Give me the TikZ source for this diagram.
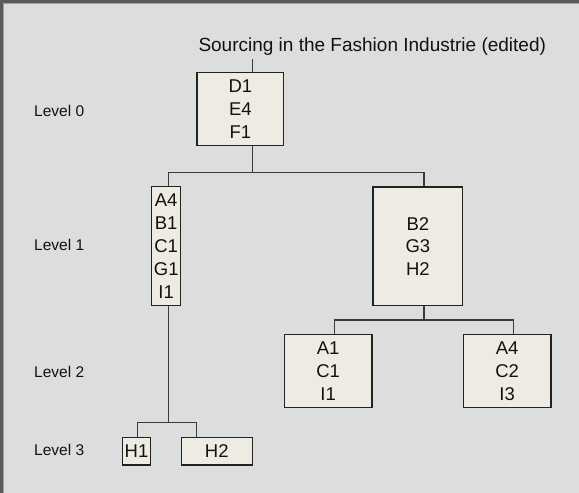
\documentclass[tikz,border=0pt]{standalone}
\usepackage{fontspec}
\setmainfont{Liberation Sans}
\definecolor{bggray}{HTML}{DCDEDD}
\definecolor{boxfill}{HTML}{EEECE2}
\definecolor{edgedark}{HTML}{5A5A5A}
\definecolor{edgelight}{HTML}{A0A0A0}
\definecolor{linecol}{HTML}{3A3A3A}
\definecolor{boxline}{HTML}{222222}
\definecolor{txt}{HTML}{111111}
\begin{document}
\begin{tikzpicture}[x=1pt,y=-1pt,
  itembox/.style={draw=boxline, line width=1.3pt, fill=boxfill, inner sep=0pt,
    align=center, font=\fontsize{18.5}{22.8}\selectfont, text=txt},
  levellabel/.style={anchor=west, inner sep=0pt, font=\fontsize{15.5}{18}\selectfont, text=txt},
  conn/.style={draw=linecol, line width=1.3pt}]
\useasboundingbox (0,0) rectangle (579,493);
\fill[bggray] (0,0) rectangle (579,493);
\fill[edgedark] (0,0) rectangle (2.6,493);
\fill[edgedark] (0,0) rectangle (579,2.6);
\fill[edgelight] (2.6,2.6) rectangle (3.6,493);
\fill[edgelight] (2.6,2.6) rectangle (579,3.6);

% title
\node[anchor=base west, inner sep=0pt, font=\fontsize{19}{22}\selectfont, text=txt] (title) at (198.3,51.7) {Sourcing in the Fashion Industrie (edited)};

% level labels
\node[levellabel] (l0) at (34,110.5) {Level 0};
\node[levellabel] (l1) at (34,245.3) {Level 1};
\node[levellabel] (l2) at (34,371.7) {Level 2};
\node[levellabel] (l3) at (34,450) {Level 3};

% boxes
\node[itembox, minimum width=86.7pt, minimum height=73.4pt] (root) at (240.4,109) {D1\\E4\\F1};
\node[itembox, minimum width=29pt, minimum height=119pt] (a) at (166.2,246.2) {A4\\B1\\C1\\G1\\I1};
\node[itembox, minimum width=89.7pt, minimum height=118.7pt] (b) at (417.9,246.4) {B2\\G3\\H2};
\node[itembox, minimum width=87.7pt, minimum height=73.4pt] (c) at (328.2,371) {A1\\C1\\I1};
\node[itembox, minimum width=87.7pt, minimum height=73.4pt] (d) at (507.2,371) {A4\\C2\\I3};
\node[itembox, minimum width=28.4pt, minimum height=27.3pt] (h1) at (136.5,451.4) {H1};
\node[itembox, minimum width=71pt, minimum height=27.3pt] (h2) at (216.8,451.4) {H2};

% junction coordinates
\coordinate (t0) at (252.3,59);
\coordinate (x0) at (252.3,0);
\coordinate (j0) at (0,172.3);
\coordinate (xa) at (168.3,0);
\coordinate (xb) at (424,0);
\coordinate (j1) at (0,320);
\coordinate (xc) at (334.3,0);
\coordinate (xd) at (513.3,0);
\coordinate (j2) at (0,422.7);
\coordinate (xh1) at (137.7,0);
\coordinate (xh2) at (196.3,0);

% connectors
\draw[conn] (t0) -- (root.north -| x0);
\draw[conn] (root.south -| x0) -- (x0 |- j0);
\draw[conn] (a.north -| xa) |- (x0 |- j0) -| (b.north -| xb);
\draw[conn] (b.south -| xb) -- (xb |- j1);
\draw[conn] (c.north -| xc) |- (xb |- j1) -| (d.north -| xd);
\draw[conn] (a.south -| xa) -- (xa |- j2);
\draw[conn] (h1.north -| xh1) |- (xa |- j2) -| (h2.north -| xh2);
\end{tikzpicture}
\end{document}
